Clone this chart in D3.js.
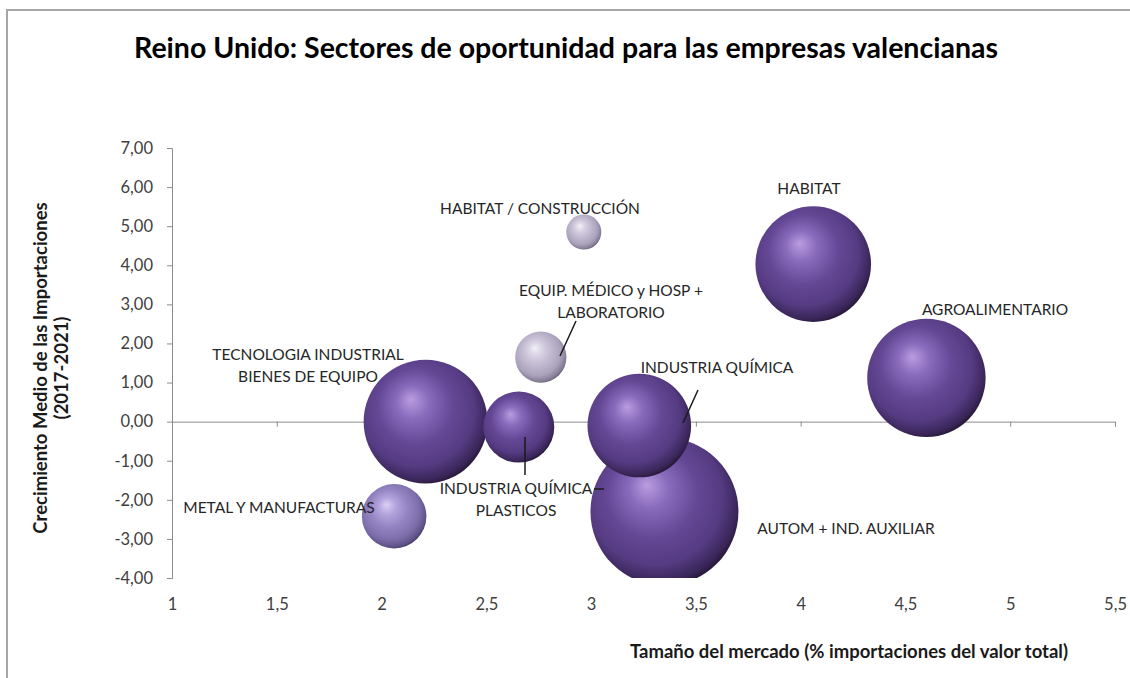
<!DOCTYPE html>
<html>
<head>
<meta charset="utf-8">
<script src="https://cdn.jsdelivr.net/npm/d3@7"></script>
<style>
  body { margin: 0; background: #fff; }
  svg text { font-family: Lato, "Noto Sans", sans-serif; }
</style>
</head>
<body>
<div id="chart"></div>
<script>
// datos
var sectores = [
  "TECNOLOGIA INDUSTRIAL BIENES DE EQUIPO",
  "AGROALIMENTARIO",
  "HABITAT",
  "AUTOM + IND. AUXILIAR",
  "INDUSTRIA QUÍMICA",
  "INDUSTRIA QUÍMICA PLASTICOS",
  "METAL Y MANUFACTURAS",
  "EQUIP. MÉDICO y HOSP + LABORATORIO",
  "HABITAT / CONSTRUCCIÓN"
];
var tamanoMercado = [2.21, 4.60, 4.06, 3.35, 3.23, 2.655, 2.06, 2.76, 2.965];
var crecimiento   = [0.00, 1.12, 4.03, -2.30, -0.10, -0.14, -2.42, 1.65, 4.85];
var volumen       = [70, 64, 61, 100, 49, 23, 19, 12, 5.6];

var xTicks = [1, 1.5, 2, 2.5, 3, 3.5, 4, 4.5, 5, 5.5];
var yTicks = [-4, -3, -2, -1, 0, 1, 2, 3, 4, 5, 6, 7];

// tono de cada burbuja (oscuro / medio / claro)
var tono = ["dark", "dark", "dark", "dark", "dark", "dark", "mid", "light", "light"];

var W = 1130, H = 678;
var svg = d3.select("#chart").append("svg")
  .attr("width", W)
  .attr("height", H);

var x = d3.scaleLinear().domain([1, 5.5]).range([172, 1115]);
var y = d3.scaleLinear().domain([-4, 7]).range([578, 148]);
var r = d3.scaleSqrt().domain([0, 100]).range([0, 74]);

var fmtY = function(d) { return d.toFixed(2).replace(".", ","); };
var fmtX = function(d) { return String(d).replace(".", ","); };

// borde del area del grafico
svg.append("path")
  .attr("d", "M7," + (H + 5) + " V10 H" + (W + 5))
  .attr("fill", "none")
  .attr("stroke", "#a6a6a6")
  .attr("stroke-width", 2);

// gradientes tipo esfera
var defs = svg.append("defs");
var paletas = {
  dark:  [["0", "#b99de0"], ["0.22", "#8a6cbd"], ["0.5", "#654896"], ["0.76", "#553b82"], ["0.92", "#3a2659"], ["1", "#21132e"]],
  mid:   [["0", "#dcd1f3"], ["0.22", "#b3a4dc"], ["0.5", "#9383c2"], ["0.76", "#7e6fac"], ["0.92", "#5f5287"], ["1", "#3e3458"]],
  light: [["0", "#f3f1f7"], ["0.22", "#d8d2e3"], ["0.5", "#bfb8ce"], ["0.76", "#aaa2bb"], ["0.92", "#867e97"], ["1", "#5b5468"]]
};
Object.keys(paletas).forEach(function(k) {
  var g = defs.append("radialGradient")
    .attr("id", "grad-" + k)
    .attr("cx", "0.45").attr("cy", "0.43").attr("r", "0.6")
    .attr("fx", "0.38").attr("fy", "0.32");
  paletas[k].forEach(function(s) {
    g.append("stop").attr("offset", s[0]).attr("stop-color", s[1]);
  });
});

defs.append("clipPath").attr("id", "plot-clip")
  .append("rect")
  .attr("x", x(1)).attr("y", y(7))
  .attr("width", x(5.5) - x(1)).attr("height", y(-4) - y(7));

// ejes
var yAxis = svg.append("g")
  .attr("transform", "translate(" + x(1) + ",0)")
  .call(d3.axisLeft(y).tickValues(yTicks).tickSize(5).tickPadding(14).tickFormat(fmtY));

var xAxis = svg.append("g")
  .attr("transform", "translate(0," + y(0) + ")")
  .call(d3.axisBottom(x).tickValues(xTicks).tickSize(5).tickFormat(""));

var xLabels = svg.append("g")
  .attr("transform", "translate(0," + y(-4) + ")")
  .call(d3.axisBottom(x).tickValues(xTicks).tickSize(0).tickPadding(20).tickFormat(fmtX));
xLabels.select(".domain").remove();

[yAxis, xAxis].forEach(function(a) {
  a.selectAll(".domain, line").attr("stroke", "#8c8c8c");
});
[yAxis, xLabels].forEach(function(a) {
  a.selectAll("text")
    .attr("fill", "#404040")
    .style("font-size", "16.5px");
});

// burbujas (las grandes primero)
var datos = sectores.map(function(s, i) {
  return { sector: s, x: tamanoMercado[i], y: crecimiento[i], v: volumen[i], tono: tono[i] };
});
datos.sort(function(a, b) { return b.v - a.v; });

var bubbles = svg.append("g").attr("clip-path", "url(#plot-clip)");
bubbles.selectAll("circle.b")
  .data(datos)
  .enter().append("circle")
  .attr("class", "b")
  .attr("cx", function(d) { return x(d.x); })
  .attr("cy", function(d) { return y(d.y); })
  .attr("r", function(d) { return r(d.v); })
  .attr("fill", function(d) { return "url(#grad-" + d.tono + ")"; });

// etiquetas de datos
var etiquetas = [
  { lines: ["HABITAT / CONSTRUCCIÓN"], cx: 540, cy: 208 },
  { lines: ["HABITAT"], cx: 809, cy: 188 },
  { lines: ["AGROALIMENTARIO"], cx: 995, cy: 309 },
  { lines: ["EQUIP. MÉDICO y HOSP +", "LABORATORIO"], cx: 611, cy: 290 },
  { lines: ["TECNOLOGIA INDUSTRIAL", "BIENES DE EQUIPO"], cx: 308, cy: 354 },
  { lines: ["INDUSTRIA QUÍMICA"], cx: 717, cy: 367 },
  { lines: ["METAL Y MANUFACTURAS"], cx: 279, cy: 507 },
  { lines: ["INDUSTRIA QUÍMICA", "PLASTICOS"], cx: 516, cy: 488 },
  { lines: ["AUTOM + IND. AUXILIAR"], cx: 846, cy: 528 }
];
var guias = [
  [[560, 356], [576, 321]],
  [[683, 423], [698, 390]],
  [[525, 437], [525, 475]],
  [[594, 489], [604, 489]]
];

svg.append("g").selectAll("line")
  .data(guias)
  .enter().append("line")
  .attr("x1", function(d) { return d[0][0]; })
  .attr("y1", function(d) { return d[0][1]; })
  .attr("x2", function(d) { return d[1][0]; })
  .attr("y2", function(d) { return d[1][1]; })
  .attr("stroke", "#1a1a1a")
  .attr("stroke-width", 1.5);

var lab = svg.append("g").selectAll("text")
  .data(etiquetas)
  .enter().append("text")
  .attr("text-anchor", "middle")
  .attr("fill", "#262626")
  .style("font-size", "15.5px");
lab.each(function(d) {
  var t = d3.select(this);
  d.lines.forEach(function(l, i) {
    t.append("tspan")
      .attr("x", d.cx)
      .attr("y", d.cy + i * 22)
      .attr("dominant-baseline", "central")
      .text(l);
  });
});

// titulo y titulos de ejes
svg.append("text")
  .attr("x", 566).attr("y", 47)
  .attr("text-anchor", "middle")
  .attr("dominant-baseline", "central")
  .style("font-size", "28.5px")
  .style("font-weight", "bold")
  .text("Reino Unido: Sectores de oportunidad para las empresas valencianas");

svg.append("text")
  .attr("x", 849).attr("y", 651)
  .attr("text-anchor", "middle")
  .attr("dominant-baseline", "central")
  .style("font-size", "18.5px")
  .style("font-weight", "bold")
  .attr("fill", "#1a1a1a")
  .text("Tamaño del mercado (% importaciones del valor total)");

var yt = svg.append("text")
  .attr("transform", "translate(40,368) rotate(-90)")
  .attr("text-anchor", "middle")
  .style("font-size", "18.5px")
  .style("font-weight", "bold")
  .attr("fill", "#1a1a1a");
yt.append("tspan").attr("x", 0).attr("y", 0).attr("dominant-baseline", "central")
  .text("Crecimiento Medio de las Importaciones");
yt.append("tspan").attr("x", 0).attr("y", 21).attr("dominant-baseline", "central")
  .text("(2017-2021)");
</script>
</body>
</html>
